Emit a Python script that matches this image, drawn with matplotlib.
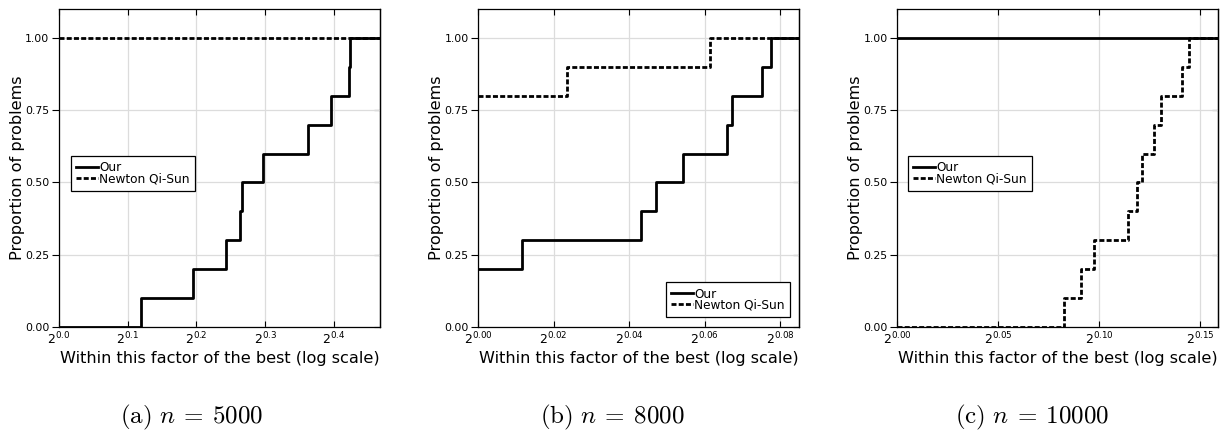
import numpy as np
import matplotlib.pyplot as plt
from matplotlib.ticker import FixedLocator, FixedFormatter

plt.rcParams['font.family'] = 'DejaVu Sans'
plt.rcParams['mathtext.fontset'] = 'dejavusans'

# performance profile data, x given as log2 of the ratio
a_our_x = [0.0, 0.119, 0.195, 0.243, 0.263, 0.266, 0.297, 0.362, 0.396, 0.422, 0.424]
a_our_y = [0.0, 0.1, 0.2, 0.3, 0.4, 0.5, 0.6, 0.7, 0.8, 0.9, 1.0]
a_nqs_x = [0.0]
a_nqs_y = [1.0]

b_our_x = [0.0, 0.0116, 0.0431, 0.0471, 0.0544, 0.0659, 0.0673, 0.0753, 0.0775]
b_our_y = [0.2, 0.3, 0.4, 0.5, 0.6, 0.7, 0.8, 0.9, 1.0]
b_nqs_x = [0.0, 0.0236, 0.0613]
b_nqs_y = [0.8, 0.9, 1.0]

c_our_x = [0.0]
c_our_y = [1.0]
c_nqs_x = [0.0, 0.0825, 0.0909, 0.0975, 0.1144, 0.1185, 0.1214, 0.1272, 0.1305, 0.1408, 0.1446]
c_nqs_y = [0.0, 0.1, 0.2, 0.3, 0.4, 0.5, 0.6, 0.7, 0.8, 0.9, 1.0]

x_max = [0.467, 0.0851, 0.159]
x_ticks = [[0.0, 0.1, 0.2, 0.3, 0.4],
           [0.0, 0.02, 0.04, 0.06, 0.08],
           [0.0, 0.05, 0.10, 0.15]]
x_tick_fmt = ['%.1f', '%.2f', '%.2f']
captions = [r'$\mathrm{(a)}\ n\:=\:5000$', r'$\mathrm{(b)}\ n\:=\:8000$',
            r'$\mathrm{(c)}\ n\:=\:10000$']
y_ticks = [0.0, 0.25, 0.5, 0.75, 1.0]

panels = [(a_our_x, a_our_y, a_nqs_x, a_nqs_y),
          (b_our_x, b_our_y, b_nqs_x, b_nqs_y),
          (c_our_x, c_our_y, c_nqs_x, c_nqs_y)]

fig = plt.figure(figsize=(12.2, 4.34), dpi=100)
lefts = [59, 478.3, 897.3]
cap_x = [192, 612, 1032]
leg_loc = ['center left', 'lower right', 'center left']
leg_anchor = [(0.0364, 0.484), (0.971, 0.031), (0.0324, 0.484)]
W, H = 1220, 434

for i, (ox, oy, nx, ny) in enumerate(panels):
    ax = fig.add_axes([lefts[i] / W, (H - 327) / H, 321 / W, 318 / H])
    xm = x_max[i]
    # extend each profile to the right edge
    ox_full = 2 ** np.array(ox + [xm])
    oy_full = oy + [oy[-1]]
    nx_full = 2 ** np.array(nx + [xm])
    ny_full = ny + [ny[-1]]
    ax.step(ox_full, oy_full, where='post', color='black', lw=2.0, label='Our', zorder=3)
    ax.step(nx_full, ny_full, where='post', color='black', lw=2.0,
            linestyle=(0, (1.8, 0.8)), label='Newton Qi-Sun', zorder=3)

    ax.set_xscale('log', base=2)
    ax.set_xlim(1, 2 ** xm)
    ax.set_ylim(0, 1.1)
    ax.xaxis.set_major_locator(FixedLocator([2 ** t for t in x_ticks[i]]))
    ax.xaxis.set_major_formatter(FixedFormatter(
        [r'$2^{' + (x_tick_fmt[i] % t) + '}$' for t in x_ticks[i]]))
    ax.xaxis.set_minor_locator(FixedLocator([]))
    ax.set_yticks(y_ticks)
    ax.set_yticklabels(['%.2f' % v for v in y_ticks])
    ax.tick_params(axis='x', direction='in', length=4, width=0.8, top=True,
                   labelsize=9, pad=3)
    ax.tick_params(axis='y', direction='out', length=5, width=0.8, labelsize=7.8, pad=2)
    # right side ticks point inward
    ry = ax.secondary_yaxis('right')
    ry.set_yticks(y_ticks)
    ry.tick_params(direction='in', length=4, width=0.8, labelright=False)
    ry.spines['right'].set_linewidth(0.9)
    ax.grid(True, color='#dcdcdc', lw=0.9)
    ax.set_axisbelow(True)
    for s in ax.spines.values():
        s.set_linewidth(0.9)
    ax.set_xlabel('Within this factor of the best (log scale)', fontsize=11.6, labelpad=2)
    ax.set_ylabel('Proportion of problems', fontsize=11.6, labelpad=0)

    leg = ax.legend(loc=leg_loc[i], bbox_to_anchor=leg_anchor[i], borderaxespad=0,
                    fontsize=8.7, handlelength=1.8, handletextpad=0.1,
                    labelspacing=-0.15, borderpad=0.45,
                    fancybox=False, framealpha=1)
    leg.get_frame().set_edgecolor('black')
    leg.get_frame().set_linewidth(0.9)

    fig.text(cap_x[i] / W, 1 - 417 / H, captions[i], ha='center', va='center',
             fontsize=18, math_fontfamily='cm')

fig.savefig('out.png', dpi=100)
